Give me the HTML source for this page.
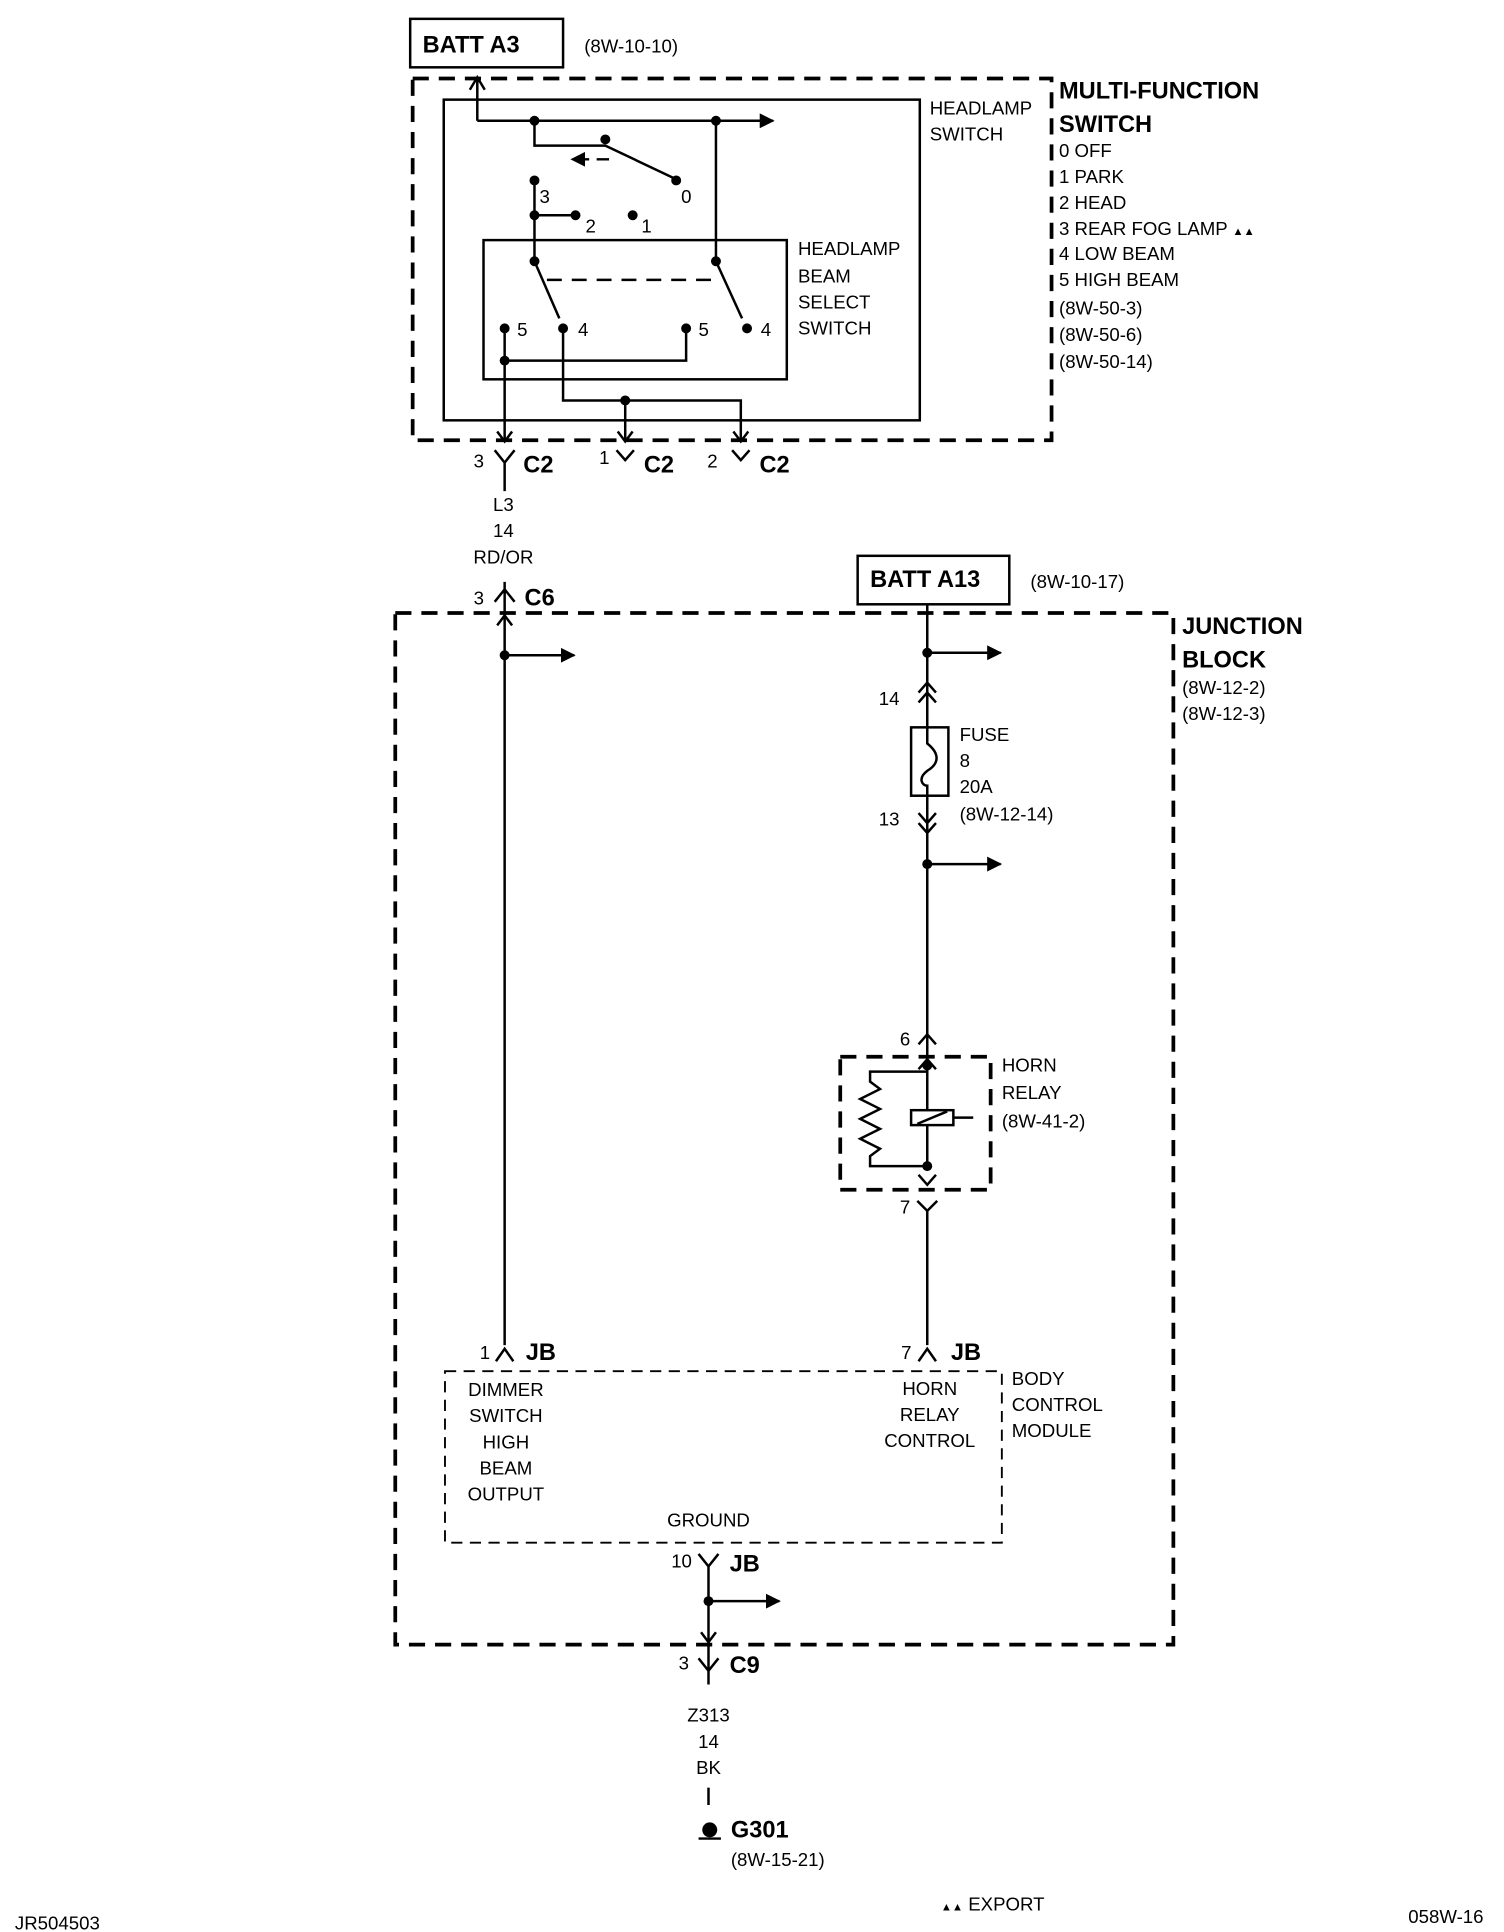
<!DOCTYPE html>
<html><head><meta charset="utf-8"><style>
html,body{margin:0;padding:0;background:#fff}
svg{display:block}
text{font-family:"Liberation Sans",sans-serif;font-size:15px;fill:#000}
.b{font-weight:bold;font-size:19px}
</style></head><body>
<svg width="1504" height="1932" viewBox="0 0 1210 1554" xmlns="http://www.w3.org/2000/svg">
<defs>
<marker id="ah" viewBox="0 0 10 10" refX="9" refY="5" markerWidth="6" markerHeight="6" orient="auto"><path d="M0,0L10,5L0,10z" fill="#000"/></marker>
</defs>
<g fill="none" stroke="#000" stroke-width="2">
<!-- top -->
<rect x="330" y="15" width="123" height="39"/>
<rect x="332" y="63" width="514" height="291" stroke-width="3" stroke-dasharray="13,8"/>
<rect x="357" y="80" width="383" height="258"/>
<rect x="389" y="193" width="244" height="112"/>
<path d="M384,97V63M378,72L384,62L390,72"/>
<path d="M384,97H622" marker-end="url(#ah)"/>
<path d="M430,97V117H487L544,144"/>
<path d="M490,128H460" stroke-dasharray="10,6" marker-end="url(#ah)"/>
<path d="M576,97V210L597,256"/>
<path d="M430,145V210L450,256"/>
<path d="M430,173H463"/>
<path d="M440,225H575" stroke-dasharray="12,8"/>
<path d="M406,264V354M406,290H552V264"/>
<path d="M453,264V322H596V354M503,322V354"/>
<path d="M400,347L406,355L412,347M497,347L503,355L509,347M590,347L596,355L602,347"/>
<path d="M398,362L406,372L414,362M406,372V395"/>
<path d="M496,362L503,370L510,362M589,362L596,370L603,362"/>
<path d="M398,484L406,474L414,484M406,468V1082"/>
<!-- junction -->
<rect x="318" y="493" width="626" height="830" stroke-width="3" stroke-dasharray="13,8"/>
<rect x="690" y="447" width="122" height="39"/>
<path d="M746,486V940"/>
<path d="M400,503L406,495L412,503"/>
<path d="M406,527H462" marker-end="url(#ah)"/>
<path d="M746,525H805" marker-end="url(#ah)"/>
<path d="M746,695H805" marker-end="url(#ah)"/>
<path d="M739,557L746,549L753,557M739,565L746,557L753,565"/>
<path d="M739,654L746,662L753,654M739,662L746,670L753,662"/>
<rect x="733" y="585" width="30" height="55" fill="#fff"/>
<path d="M746,585V598C756,606 756,614 746,620C738,626 742,632 746,632V640"/>
<path d="M739,840L746,832L753,840"/>
<rect x="676" y="850" width="121" height="107" stroke-width="3" stroke-dasharray="13,8"/>
<path d="M739,860L746,852L753,860M739,945L746,953L753,945"/>
<path d="M746,862H700V870L708,876L692,884L708,892L692,900L708,908L692,916L708,924L700,930V938H746"/>
<rect x="733" y="893" width="34" height="12" fill="#fff"/>
<path d="M738,904L762,894M767,899H783"/>
<path d="M738,966L746,974L754,966M746,974V1082"/>
<path d="M399,1095L406,1085L413,1095M739,1095L746,1085L753,1095"/>
<rect x="358" y="1103" width="448" height="138" stroke-width="1.5" stroke-dasharray="9,6"/>
<path d="M562,1250L570,1260L578,1250M570,1260V1355"/>
<path d="M570,1288H627" marker-end="url(#ah)"/>
<path d="M564,1313L570,1321L576,1313M562,1334L570,1344L578,1334"/>
<path d="M570,1438V1452M562,1479H580"/>
</g>
<g fill="#000">
<circle cx="430" cy="97" r="4"/><circle cx="576" cy="97" r="4"/><circle cx="487" cy="112" r="4"/>
<circle cx="544" cy="145" r="4"/><circle cx="430" cy="145" r="4"/><circle cx="430" cy="173" r="4"/>
<circle cx="463" cy="173" r="4"/><circle cx="509" cy="173" r="4"/><circle cx="430" cy="210" r="4"/>
<circle cx="576" cy="210" r="4"/><circle cx="406" cy="264" r="4"/><circle cx="453" cy="264" r="4"/>
<circle cx="552" cy="264" r="4"/><circle cx="601" cy="264" r="4"/><circle cx="406" cy="290" r="4"/>
<circle cx="503" cy="322" r="4"/><circle cx="406" cy="527" r="4"/><circle cx="746" cy="525" r="4"/>
<circle cx="746" cy="695" r="4"/><circle cx="746" cy="857" r="4"/><circle cx="746" cy="938" r="4"/>
<circle cx="570" cy="1288" r="4"/><circle cx="571" cy="1472" r="6"/>
</g>
<text class="b" x="340" y="42">BATT A3</text>
<text x="470" y="42">(8W-10-10)</text>
<text x="748" y="92">HEADLAMP</text><text x="748" y="113">SWITCH</text>
<text x="642" y="205">HEADLAMP</text><text x="642" y="227">BEAM</text><text x="642" y="248">SELECT</text><text x="642" y="269">SWITCH</text>
<text x="548" y="163">0</text><text x="434" y="163">3</text><text x="471" y="187">2</text><text x="516" y="187">1</text>
<text x="416" y="270">5</text><text x="465" y="270">4</text><text x="562" y="270">5</text><text x="612" y="270">4</text>
<text class="b" x="852" y="79">MULTI-FUNCTION</text><text class="b" x="852" y="106">SWITCH</text>
<text x="852" y="126">0 OFF</text><text x="852" y="147">1 PARK</text><text x="852" y="168">2 HEAD</text>
<text x="852" y="189">3 REAR FOG LAMP <tspan font-size="9">▲▲</tspan></text><text x="852" y="209">4 LOW BEAM</text>
<text x="852" y="230">5 HIGH BEAM</text><text x="852" y="253">(8W-50-3)</text><text x="852" y="274">(8W-50-6)</text><text x="852" y="296">(8W-50-14)</text>
<text x="381" y="376" font-size="13">3</text><text class="b" x="421" y="380">C2</text>
<text x="482" y="373" font-size="13">1</text><text class="b" x="518" y="380">C2</text>
<text x="569" y="376" font-size="13">2</text><text class="b" x="611" y="380">C2</text>
<text x="405" y="411" text-anchor="middle">L3</text><text x="405" y="432" text-anchor="middle">14</text><text x="405" y="453" text-anchor="middle">RD/OR</text>
<text x="381" y="486" font-size="13">3</text><text class="b" x="422" y="487">C6</text>
<text class="b" x="700" y="472">BATT A13</text><text x="829" y="473">(8W-10-17)</text>
<text class="b" x="951" y="510">JUNCTION</text><text class="b" x="951" y="537">BLOCK</text>
<text x="951" y="558">(8W-12-2)</text><text x="951" y="579">(8W-12-3)</text>
<text x="707" y="567">14</text><text x="772" y="596">FUSE</text><text x="772" y="617">8</text><text x="772" y="638">20A</text><text x="772" y="660">(8W-12-14)</text>
<text x="707" y="664">13</text><text x="724" y="841">6</text>
<text x="806" y="862">HORN</text><text x="806" y="884">RELAY</text><text x="806" y="907">(8W-41-2)</text>
<text x="724" y="976">7</text>
<text x="386" y="1093">1</text><text class="b" x="423" y="1094">JB</text>
<text x="725" y="1093">7</text><text class="b" x="765" y="1094">JB</text>
<g text-anchor="middle"><text x="407" y="1123">DIMMER</text><text x="407" y="1144">SWITCH</text><text x="407" y="1165">HIGH</text><text x="407" y="1186">BEAM</text><text x="407" y="1207">OUTPUT</text>
<text x="748" y="1122">HORN</text><text x="748" y="1143">RELAY</text><text x="748" y="1164">CONTROL</text>
<text x="570" y="1228">GROUND</text>
<text x="570" y="1385">Z313</text><text x="570" y="1406">14</text><text x="570" y="1427">BK</text></g>
<text x="814" y="1114">BODY</text><text x="814" y="1135">CONTROL</text><text x="814" y="1156">MODULE</text>
<text x="540" y="1261">10</text><text class="b" x="587" y="1264">JB</text>
<text x="546" y="1343">3</text><text class="b" x="587" y="1346">C9</text>
<text class="b" x="588" y="1478">G301</text><text x="588" y="1501">(8W-15-21)</text>
<text x="757" y="1537"><tspan font-size="9">▲▲</tspan> EXPORT</text>
<text x="12" y="1552">JR504503</text><text x="1133" y="1547">058W-16</text>
</svg>
</body></html>
